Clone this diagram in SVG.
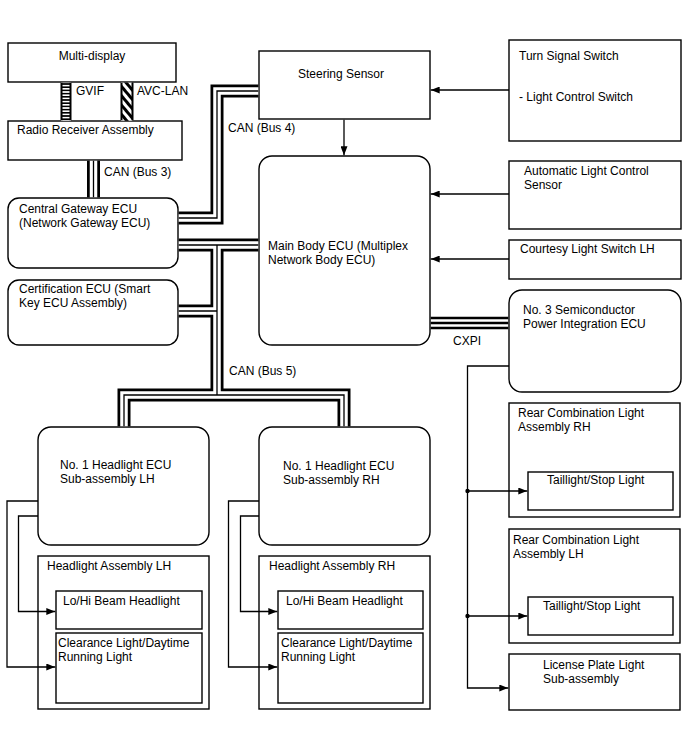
<svg xmlns="http://www.w3.org/2000/svg" width="688" height="755" viewBox="0 0 688 755">
<defs>
<style>
text{font-family:"Liberation Sans",Arial,sans-serif;font-size:12px;fill:#000}
.box{fill:#fff;stroke:#000;stroke-width:1.4}
.ln{fill:none;stroke:#000;stroke-width:1.3}
.arr{fill:none;stroke:#000;stroke-width:1.3;marker-end:url(#ah)}
.bk{fill:none;stroke:#000;stroke-width:13}
.wt{fill:none;stroke:#fff;stroke-width:7.5}
.ct{fill:none;stroke:#000;stroke-width:1.3}
</style>
<marker id="ah" markerUnits="userSpaceOnUse" markerWidth="9" markerHeight="7" refX="9" refY="3.5" orient="auto">
<path d="M0,0 L9,3.5 L0,7 z" fill="#000"/>
</marker>
<pattern id="ladder" patternUnits="userSpaceOnUse" width="10" height="3.2">
<rect width="10" height="3.2" fill="#fff"/>
<rect width="10" height="1.6" fill="#000"/>
</pattern>
<pattern id="diag" patternUnits="userSpaceOnUse" width="6" height="6" patternTransform="rotate(-40)">
<rect width="6" height="6" fill="#fff"/>
<rect width="3" height="6" fill="#000"/>
</pattern>
</defs>

<g id="multi-display"><rect class="box" x="8" y="43" width="168" height="39"/><text x="92" y="60" text-anchor="middle">Multi-display</text></g>
<g id="radio"><rect class="box" x="8" y="121" width="174" height="39"/><text x="17" y="134">Radio Receiver Assembly</text></g>
<g id="central-gateway"><rect class="box" x="8" y="198" width="170" height="70" rx="11"/><text x="19" y="213">Central Gateway ECU</text><text x="19" y="227">(Network Gateway ECU)</text></g>
<g id="certification"><rect class="box" x="8" y="280" width="170" height="65" rx="11"/><text x="19" y="293">Certification ECU (Smart</text><text x="19" y="307">Key ECU Assembly)</text></g>
<g id="steering"><rect class="box" x="259" y="51" width="171" height="68"/><text x="341" y="78" text-anchor="middle">Steering Sensor</text></g>
<g id="main-body"><rect class="box" x="259" y="156" width="171" height="189" rx="13"/><text x="268" y="250">Main Body ECU (Multiplex</text><text x="268" y="264">Network Body ECU)</text></g>
<g id="turn-signal"><rect class="box" x="509" y="40" width="172" height="101"/><text x="519" y="60">Turn Signal Switch</text><text x="519" y="101">- Light Control Switch</text></g>
<g id="auto-light"><rect class="box" x="509" y="161" width="172" height="68"/><text x="524" y="175">Automatic Light Control</text><text x="524" y="189">Sensor</text></g>
<g id="courtesy"><rect class="box" x="509" y="240" width="172" height="39"/><text x="520" y="253">Courtesy Light Switch LH</text></g>
<g id="semiconductor"><rect class="box" x="509" y="290" width="172" height="102" rx="13"/><text x="523" y="314">No. 3 Semiconductor</text><text x="523" y="328">Power Integration ECU</text></g>

<g id="headlight-ecu-lh"><rect class="box" x="38" y="427" width="171" height="118" rx="13"/><text x="60" y="469">No. 1 Headlight ECU</text><text x="60" y="483">Sub-assembly LH</text></g>
<g id="headlight-assy-lh"><rect class="box" x="38" y="556" width="171" height="153"/><text x="47" y="570">Headlight Assembly LH</text></g>
<g id="lohi-lh"><rect class="box" x="56" y="591" width="146" height="38"/><text x="63" y="605">Lo/Hi Beam Headlight</text></g>
<g id="clearance-lh"><rect class="box" x="56" y="633" width="146" height="70"/><text x="58" y="647">Clearance Light/Daytime</text><text x="58" y="661">Running Light</text></g>

<g id="headlight-ecu-rh"><rect class="box" x="259" y="427" width="171" height="118" rx="13"/><text x="283" y="470">No. 1 Headlight ECU</text><text x="283" y="484">Sub-assembly RH</text></g>
<g id="headlight-assy-rh"><rect class="box" x="259" y="556" width="171" height="153"/><text x="269" y="570">Headlight Assembly RH</text></g>
<g id="lohi-rh"><rect class="box" x="278" y="591" width="145" height="38"/><text x="286" y="605">Lo/Hi Beam Headlight</text></g>
<g id="clearance-rh"><rect class="box" x="278" y="633" width="145" height="70"/><text x="281" y="647">Clearance Light/Daytime</text><text x="281" y="661">Running Light</text></g>

<g id="rear-rh"><rect class="box" x="509" y="403" width="171" height="114"/><text x="518" y="417">Rear Combination Light</text><text x="518" y="431">Assembly RH</text></g>
<g id="tail-rh"><rect class="box" x="528" y="472" width="145" height="38"/><text x="547" y="484">Taillight/Stop Light</text></g>
<g id="rear-lh"><rect class="box" x="509" y="529" width="171" height="114"/><text x="513" y="544">Rear Combination Light</text><text x="513" y="558">Assembly LH</text></g>
<g id="tail-lh"><rect class="box" x="528" y="597" width="145" height="38"/><text x="543" y="610">Taillight/Stop Light</text></g>
<g id="license"><rect class="box" x="509" y="654" width="171" height="56"/><text x="543" y="669">License Plate Light</text><text x="543" y="683">Sub-assembly</text></g>

<g id="connectors">
<!-- GVIF / AVC-LAN -->
<rect x="61" y="82.7" width="10" height="38" fill="url(#ladder)"/>
<path d="M61.5,82.7 V120.3 M70.5,82.7 V120.3" stroke="#000" stroke-width="2"/>
<rect x="121" y="82.7" width="12" height="38" fill="url(#diag)"/>
<path d="M121.5,82.7 V120.3 M132.5,82.7 V120.3" stroke="#000" stroke-width="2"/>
<!-- CAN buses -->
<g>
<path class="bk" d="M93.5,160.7 V197.3 M178.7,218 H217 V91 H258.3 M178.7,245 H258.3 M217,245 V395 M178.7,311 H217 M124,426.3 V395 H344 V426.3"/>
<path class="wt" d="M93.5,160.7 V197.3 M178.7,218 H217 V91 H258.3 M178.7,245 H258.3 M217,245 V395 M178.7,311 H217 M124,426.3 V395 H344 V426.3"/>
<path class="ct" d="M93.5,160.7 V197.3 M178.7,218 H217 V91 H258.3 M178.7,245 H258.3 M217,245 V395 M178.7,311 H217 M124,426.3 V395 H344 V426.3"/>
</g>
<!-- CXPI -->
<path d="M430.7,318 H508.3 M430.7,323 H508.3 M430.7,328 H508.3" stroke="#000" stroke-width="2.5"/>
<!-- signal arrows -->
<path class="arr" d="M509,90 H430.7"/>
<path class="arr" d="M344,119.7 V155.3"/>
<path class="arr" d="M509,194 H430.7"/>
<path class="arr" d="M509,259 H430.7"/>
<!-- headlight LH -->
<path class="arr" d="M38,501 H7 V667 H55.3"/>
<path class="arr" d="M38,516 H18.5 V611.5 H55.3"/>
<!-- headlight RH -->
<path class="arr" d="M259,501 H228.5 V667 H277.3"/>
<path class="arr" d="M259,516 H240.5 V611.5 H277.3"/>
<!-- rear lights -->
<path class="arr" d="M509,366 H467.5 V688 H508.3"/>
<path class="arr" d="M467.5,491 H527.3"/>
<path class="arr" d="M467.5,616 H527.3"/>
<circle cx="467.5" cy="491" r="2.2" fill="#000"/>
<circle cx="467.5" cy="616" r="2.2" fill="#000"/>
</g>

<g id="labels">
<text x="76" y="95">GVIF</text>
<text x="137" y="95">AVC-LAN</text>
<text x="104" y="176">CAN (Bus 3)</text>
<text x="228" y="132">CAN (Bus 4)</text>
<text x="229" y="375">CAN (Bus 5)</text>
<text x="453" y="345">CXPI</text>
</g>
</svg>
